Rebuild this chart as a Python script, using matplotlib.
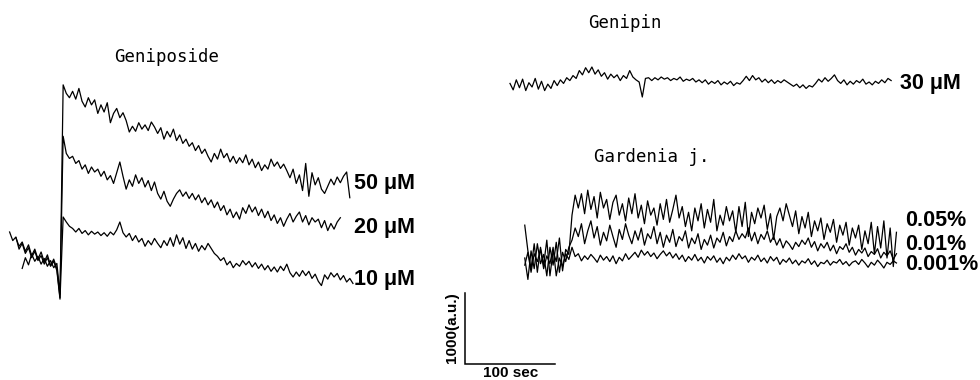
import numpy as np
import matplotlib
matplotlib.use("Agg")
import matplotlib.pyplot as plt

# ---------------- data (time in s, signal in a.u.) ----------------
DT = 3.5  # sampling interval, s

# Geniposide traces: baseline, drug application artefact at t = 0, response
geniposide_labels = ["50 \u03bcM", "20 \u03bcM", "10 \u03bcM"]
geniposide_t0 = [-49.0, -42.0, -56.0]
geniposide_50 = [340, 220, 280, 150, 240, 90, 180, 40, 140, 0, 100, -50, 40, -90,
                 -500,
                 2480, 2360, 2300, 2390, 2280, 2430, 2250, 2170, 2300, 2200,
                 2270, 2080, 2200, 2100, 2230, 1950, 2080, 2150, 2020, 2090,
                 1980, 1820, 1900, 1830, 1950, 1860, 1920, 1840, 1960, 1890,
                 1800, 1880, 1720, 1830, 1750, 1860, 1700, 1780, 1660, 1720,
                 1620, 1670, 1560, 1630, 1520, 1580, 1480, 1400, 1520, 1440,
                 1580, 1460, 1520, 1400, 1480, 1380, 1460, 1390, 1500, 1360,
                 1440, 1320, 1400, 1280, 1360, 1300, 1440, 1340, 1400, 1310,
                 1370, 1280, 1180, 1300, 1100, 1220, 1000, 1380, 920, 1250,
                 1080, 1180, 1020, 960, 1060, 1160, 1080, 1190, 1110, 1200,
                 1260, 900]
geniposide_20 = [-90, 60, -40, 110, 10, 80, -30, 50, -60, 20, -80, -20,
                 -450,
                 1760, 1520, 1450, 1480, 1380, 1420, 1300, 1360, 1240, 1330,
                 1260, 1300, 1200, 1270, 1150, 1210, 1100, 1250, 1400, 1200,
                 1020, 1150, 1060, 1220, 1100, 1180, 1050, 1140, 1000, 1120,
                 960, 880, 990, 850, 780, 880, 960, 1010, 920, 980,
                 890, 960, 870, 940, 830, 900, 800, 870, 760, 840,
                 720, 790, 660, 740, 620, 700, 600, 760, 680, 800,
                 700, 770, 650, 740, 620, 710, 580, 660, 540, 620,
                 500, 600, 680, 560, 640, 700, 560, 650, 520, 620,
                 560, 600, 480, 580, 440, 540, 460, 560, 620]
geniposide_10 = [420, 300, 350, 180, 260, 120, 200, 60, 150, 20, 90, -30, 60, -60, 10, -120,
                 -520,
                 630, 560, 500, 470, 420, 470, 400, 440, 380, 430,
                 390, 420, 370, 410, 360, 420, 380, 450, 560, 410,
                 350, 400, 300, 370, 280, 330, 220, 300, 240, 330,
                 260, 200, 300, 230, 340, 220, 380, 250, 340, 190,
                 300, 180, 260, 150, 230, 170, 260, 190, 120, 80,
                 20, 60, -40, 10, -80, -20, -60, 20, -40, 10,
                 -70, -10, -90, -30, -110, -50, -130, -70, -140, -60,
                 -120, -30, -150, -210, -140, -200, -120, -190, -130, -230,
                 -170, -270, -330, -180, -240, -150, -210, -160, -250, -190,
                 -280, -230, -300]

# Genipin 30 uM
genipin_label = "30 \u03bcM"
genipin_30 = [-20, -110, 30, -80, 40, -120, -10, -70, 50, -100, 10, -120, -30, -90, 20, -50,
              30, -20, 60, 20, 90, 50, 160, 100, 200, 130, 210, 110, 170,
              80, 130, 40, 110, 60, 100, 20, 90, 50, 160, 70, 30, 0,
              -210, 50, 60,
              20, 60, 30, 70, 40, 60, 20, 50, 30, 70, 10, 40, 20, 50, 0, 30,
              -10, 30, -30, 10, -20, 20, -40, 0, -30, 10, -50, -10, -30, 20,
              80, 20, 90, 30, 60,
              0, 40, -10, 30, -20, 20, -10, 30, 0, -30,
              -60, -30, -80, -40, -90, -50, -70, -20,
              40, 0, 60, 10, 50, 100, 20,
              -20, 30, -40, 10, -30, 20, -10, 40, -30, 0, -40, 10,
              -20, 30, -10, 50, 20]

# Gardenia jasminoides extract: baseline then application at t = 0
gardenia_labels = ["0.05%", "0.01%", "0.001%"]
gardenia_t0 = -52.5
gardenia_005 = [460, 100, -150, 200, -200, 150, -100, 250, -250, 100, -50, 280, -180, 120, 50,
                600, 880, 700, 900, 620, 950, 680, 860, 560, 920,
                700, 820, 540, 780, 880, 600, 760, 520, 840, 620,
                900, 560, 740, 480, 800, 600, 700, 460, 760, 540,
                820, 500, 680, 880, 560, 720, 440, 640, 380, 700,
                520, 760, 420, 680, 500, 820, 380, 600, 460, 720,
                520, 660, 360, 720, 440, 780, 300, 640, 480, 700,
                560, 740, 400, 620, 260, 580, 700, 520, 760, 600,
                440, 660, 340, 580, 420, 640, 300, 520, 380, 560,
                260, 480, 360, 540, 220, 460, 320, 500, 180, 420,
                280, 460, 120, 380, 200, 500, 60, 440, 140, 520,
                0, 420, -120, 360]
gardenia_001 = [0, -300, 100, -150, 200, -80, 50, -250, 150, -100, 220, -200, 80, -50, 150,
                250, 420, 300, 480, 200, 380, 520, 280, 440, 180,
                360, 240, 460, 300, 150, 400, 260, 480, 320, 200,
                380, 250, 420, 180, 340, 270, 440, 200, 360, 150,
                320, 220, 400, 160, 300, 240, 380, 140, 280, 200,
                340, 120, 260, 180, 320, 140, 280, 220, 360, 170,
                300, 230, 380, 260, 340, 280, 420, 240, 360, 200,
                330, 260, 380, 220, 300, 180, 270, 140, 240, 190,
                120, 220, 160, 250, 190, 280, 150, 230, 100, 200,
                140, 220, 100, 180, 60, 160, 120, 200, 80, 150,
                40, 120, 70, 140, 20, 90, 50, 130, 0, 80,
                30, 100, -20, 60]
gardenia_0001 = [-100, 80, -200, 60, -50, 120, -150, 30, -80, 150, -250, 0, -120, 60, -20,
                 150, 20, 60, -40, 30, -20, 50, 0, -60, 40,
                 -30, 20, -50, 30, -80, 10, -40, 60, -20, 30,
                 80, 10, 110, 40, 90, 20, 70, -10, 50, 100,
                 30, 80, 0, 60, -20, 40, -50, 20, -30, 50,
                 -40, 10, -70, 20, -30, 30, -60, 0, -80, 10,
                 -40, 40, -20, 60, -10, 30, -60, 10, -30, 40,
                 -50, 0, -70, 20, -40, 10, -90, -20, -60, 0,
                 -80, -30, -100, -40, -70, -10, -90, -40, -120, -60,
                 -80, -30, -100, -50, -70, -20, -90, -50, -110, -60,
                 -40, -90, -20, -70, -130, -60, -100, -30, -80, -140,
                 -60, -90, -40, -70]

SCALE_SIGNAL = 1000   # a.u.
SCALE_TIME = 100      # s

# ---------------- layout ----------------
W, H = 980, 380
PX_PER_S = 0.9
PX_PER_AU = 1 / 14.0
X_ZERO_PX = 60.0          # left panel application time
Y_ZERO_PX = 262.0         # left panel baseline
GENIPIN_X_PX, GENIPIN_Y_PX = 510.0, 82.0
GARDENIA_X_PX, GARDENIA_Y_PX = 572.0, 258.0
BAR_X_PX, BAR_Y_PX = 465.0, 364.0

fig = plt.figure(figsize=(W / 100, H / 100), dpi=100)
fig.patch.set_facecolor("white")
ax = fig.add_axes([0, 0, 1, 1])
ax.set_axis_off()
ax.set_xlim(-X_ZERO_PX / PX_PER_S, (W - X_ZERO_PX) / PX_PER_S)
ax.set_ylim(-(H - Y_ZERO_PX) / PX_PER_AU, Y_ZERO_PX / PX_PER_AU)


def xoff(px):
    return (px - X_ZERO_PX) / PX_PER_S


def yoff(py):
    return (Y_ZERO_PX - py) / PX_PER_AU


LW = 0.9
for vals, t0 in zip([geniposide_50, geniposide_20, geniposide_10], geniposide_t0):
    t = t0 + DT * np.arange(len(vals))
    ax.plot(t, vals, color="black", lw=LW)

t = DT * np.arange(len(genipin_30))
ax.plot(t + xoff(GENIPIN_X_PX), np.array(genipin_30) + yoff(GENIPIN_Y_PX), color="black", lw=LW)

for vals in [gardenia_005, gardenia_001, gardenia_0001]:
    t = gardenia_t0 + DT * np.arange(len(vals))
    ax.plot(t + xoff(GARDENIA_X_PX), np.array(vals) + yoff(GARDENIA_Y_PX), color="black", lw=LW)

# scale bar
bx, by = xoff(BAR_X_PX), yoff(BAR_Y_PX)
ax.plot([bx, bx, bx + SCALE_TIME], [by + SCALE_SIGNAL, by, by], color="black", lw=1.1,
        solid_joinstyle="miter")


def ftext(px, py, s, **kw):
    fig.text(px / W, 1 - py / H, s, **kw)


mono = dict(family="DejaVu Sans Mono", fontsize=12.5, color="black", ha="center", va="center")
ftext(167, 57, "Geniposide", **mono)
ftext(625, 23, "Genipin", **mono)
ftext(652, 157, "Gardenia j.", **mono)

bold = dict(family=["Liberation Sans", "DejaVu Sans"], fontsize=15.5, fontweight="bold",
            color="black", ha="left", va="center")
for lab, py in zip(geniposide_labels, [184, 228, 279]):
    ftext(354, py, lab, **bold)
ftext(900, 83, genipin_label, **bold)
for lab, py in zip(gardenia_labels, [220, 244, 265]):
    ftext(905, py, lab, **bold)

small = dict(family=["Liberation Sans", "DejaVu Sans"], fontsize=11, fontweight="bold", color="black")
ftext(452, 328, f"{SCALE_SIGNAL}(a.u.)", rotation=90, ha="center", va="center", **small)
ftext(511, 373, f"{SCALE_TIME} sec", ha="center", va="center", **small)

fig.savefig("out.png", dpi=100, facecolor="white")
